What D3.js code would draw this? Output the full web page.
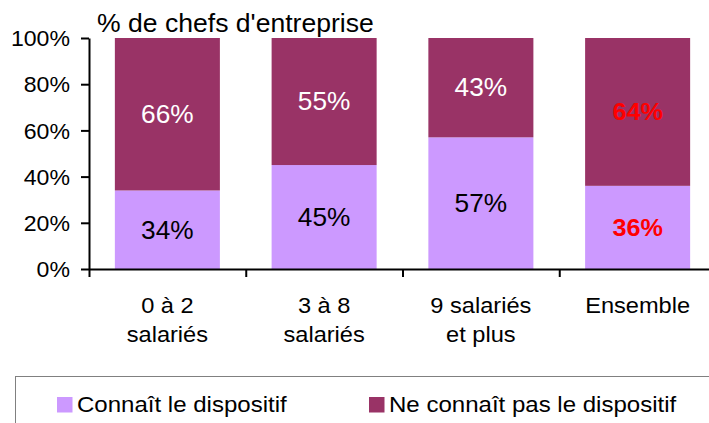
<!DOCTYPE html>
<html>
<head>
<meta charset="utf-8">
<script src="https://cdn.jsdelivr.net/npm/d3@7"></script>
<style>
  html, body { margin: 0; padding: 0; background: #fff; }
  svg { display: block; }
  text { font-family: "Liberation Sans", Arial, sans-serif; }
</style>
</head>
<body>
<svg id="chart" width="709" height="423"></svg>
<script>
// Categories (two-line labels) and stacked shares in %
const categories = ["0 à 2 salariés", "3 à 8 salariés", "9 salariés et plus", "Ensemble"];
const categoryLines = [["0 à 2", "salariés"], ["3 à 8", "salariés"], ["9 salariés", "et plus"], ["Ensemble"]];
const connait = [34, 45, 57, 36];
const neConnaitPas = [66, 55, 43, 64];
const yTicks = [0, 20, 40, 60, 80, 100];
const seriesNames = ["Connaît le dispositif", "Ne connaît pas le dispositif"];
const colors = ["#CC99FF", "#993366"];

const svg = d3.select("#chart");
const SX = 1.05; // slight horizontal stretch of glyphs

function stretchedText(sel, px, py) {
  return sel.attr("transform", `translate(${px},${py}) scale(${SX},1)`);
}

const plotLeft = 89, plotTop = 38, plotBottom = 269;
const step = 156.75;
const x = d3.scaleBand().domain(categories)
  .range([plotLeft, plotLeft + step * categories.length])
  .paddingInner(0.33).paddingOuter(0.165);
const xEdge = d3.scaleLinear().domain([0, categories.length]).range([plotLeft, plotLeft + step * categories.length]);
const y = d3.scaleLinear().domain([0, 100]).range([plotBottom, plotTop]);

// Stacked bars
const rows = categories.map((c, i) => ({ cat: c, a: connait[i], b: neConnaitPas[i], i }));
const g = svg.append("g");
rows.forEach(r => {
  g.append("rect").attr("x", x(r.cat)).attr("width", x.bandwidth())
    .attr("y", y(r.a)).attr("height", y(0) - y(r.a)).attr("fill", colors[0]);
  g.append("rect").attr("x", x(r.cat)).attr("width", x.bandwidth())
    .attr("y", y(r.a + r.b)).attr("height", y(r.a) - y(r.a + r.b)).attr("fill", colors[1]);
});

// Value labels
rows.forEach(r => {
  const cx = x(r.cat) + x.bandwidth() / 2;
  const highlight = r.cat === "Ensemble";
  const lab = (v, mid, fill) => {
    const t = g.append("text").text(v + "%")
      .attr("text-anchor", "middle").attr("dominant-baseline", "central")
      .attr("font-size", highlight ? 24 : 25).attr("fill", highlight ? "#FF0000" : fill)
      .attr("font-weight", highlight ? "bold" : "normal");
    stretchedText(t, cx, mid);
  };
  lab(r.a, y(r.a / 2), "#000");
  lab(r.b, y(r.a + r.b / 2), "#fff");
});

// Y axis
const yAxis = svg.append("g").attr("transform", `translate(${plotLeft},0)`)
  .call(d3.axisLeft(y).tickValues(yTicks).tickFormat(d => d + "%").tickSize(8).tickSizeOuter(0).tickPadding(6));
yAxis.select(".domain").attr("stroke", "#000").attr("stroke-width", 2);
yAxis.selectAll(".tick line").attr("stroke", "#000").attr("stroke-width", 2);
yAxis.selectAll(".tick text").each(function () {
  const t = d3.select(this);
  t.attr("font-size", 22).attr("fill", "#000").attr("font-family", "Liberation Sans, Arial, sans-serif")
   .attr("x", null).attr("dy", "0.35em")
   .attr("transform", `translate(-19,0) scale(${SX},1)`);
});

// X axis with ticks at category boundaries
const xAxis = svg.append("g").attr("transform", `translate(0,${plotBottom})`)
  .call(d3.axisBottom(xEdge).tickValues(d3.range(categories.length + 1)).tickFormat("").tickSize(8).tickSizeOuter(0));
xAxis.select(".domain").attr("stroke", "#000").attr("stroke-width", 2);
xAxis.selectAll(".tick line").attr("stroke", "#000").attr("stroke-width", 2);

// Category labels
categoryLines.forEach((lines, i) => {
  const cx = x(categories[i]) + x.bandwidth() / 2;
  lines.forEach((ln, j) => {
    const t = svg.append("text").text(ln).attr("text-anchor", "middle")
      .attr("font-size", 22.5).attr("fill", "#000");
    stretchedText(t, cx, 313 + j * 29);
  });
});

// Title
stretchedText(svg.append("text").text("% de chefs d'entreprise")
  .attr("font-size", 25.3).attr("fill", "#000"), 97, 32);

// Legend
svg.append("rect").attr("x", 15.5).attr("y", 376.5).attr("width", 720).attr("height", 80)
  .attr("fill", "none").attr("stroke", "#808080").attr("stroke-width", 1);
const legendX = [57, 369];
seriesNames.forEach((name, i) => {
  svg.append("rect").attr("x", legendX[i]).attr("y", 397).attr("width", 15.5).attr("height", 15.5)
    .attr("fill", colors[i]);
  stretchedText(svg.append("text").text(name).attr("font-size", 22.9).attr("fill", "#000"),
    legendX[i] + 20, 412);
});
</script>
</body>
</html>
